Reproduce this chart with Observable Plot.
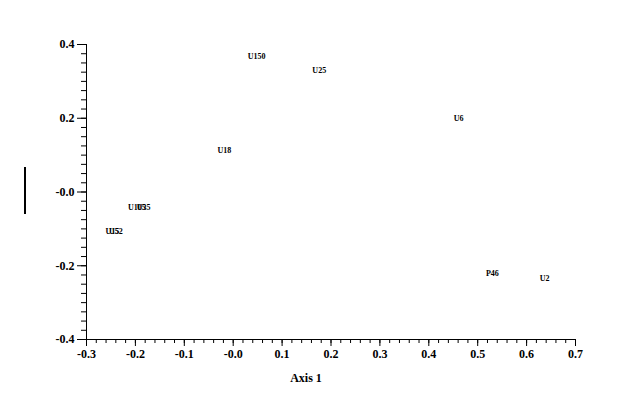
<!DOCTYPE html>
<html>
<head>
<meta charset="utf-8">
<script src="https://cdn.jsdelivr.net/npm/d3@7"></script>
<script src="https://cdn.jsdelivr.net/npm/@observablehq/plot@0.6"></script>
<style>
  html, body { margin: 0; padding: 0; background: #fff; }
  #wrap { position: relative; width: 624px; height: 413px; }
  #ybar { position: absolute; left: 24px; top: 167px; width: 2px; height: 47px; background: #000; }
</style>
</head>
<body>
<div id="wrap"><div id="ybar"></div></div>
<script>
const labels = ["U150", "U25", "U6", "U18", "U105", "U35", "U15", "U52", "P46", "U2"];
const axis1  = [0.048, 0.176, 0.461, -0.018, -0.197, -0.183, -0.247, -0.240, 0.530, 0.637];
const axis2  = [0.367, 0.329, 0.199, 0.113, -0.043, -0.043, -0.108, -0.108, -0.221, -0.235];
const xMajor = [-0.3, -0.2, -0.1, 0, 0.1, 0.2, 0.3, 0.4, 0.5, 0.6, 0.7];
const yMajor = [-0.4, -0.2, 0, 0.2, 0.4];
const xTitle = "Axis 1";

const points = labels.map((l, i) => ({label: l, x: axis1[i], y: axis2[i]}));
const xMinor = d3.range(-30, 71, 2).map(v => v / 100);
const yMinor = d3.range(-16, 17, 1).map(v => v / 40);
const fmt = d => Math.abs(d) < 1e-9 ? "-0.0" : d.toFixed(1);

const chart = Plot.plot({
  width: 624,
  height: 413,
  marginLeft: 86,
  marginRight: 49,
  marginTop: 44,
  marginBottom: 74,
  style: {fontFamily: "'Liberation Serif', 'Times New Roman', serif", background: "#fff", color: "#000"},
  x: {domain: [-0.3, 0.7]},
  y: {domain: [-0.4, 0.4]},
  marks: [
    Plot.axisX(xMinor, {tickSize: 4, text: null, label: null, stroke: "#000", strokeWidth: 1}),
    Plot.axisX(xMajor, {tickSize: 7, tickPadding: 3, tickFormat: fmt, label: null, fontSize: 12, fontWeight: "bold", stroke: "#000", strokeWidth: 1}),
    Plot.axisY(yMinor, {tickSize: 5, text: null, label: null, stroke: "#000", strokeWidth: 1}),
    Plot.axisY(yMajor, {tickSize: 9, tickPadding: 3, tickFormat: fmt, label: null, fontSize: 12, fontWeight: "bold", stroke: "#000", strokeWidth: 1}),
    Plot.ruleX([-0.3], {stroke: "#000", strokeWidth: 1}),
    Plot.ruleY([-0.4], {stroke: "#000", strokeWidth: 1}),
    Plot.text(points, {x: "x", y: "y", text: "label", fontSize: 8, fontWeight: "bold", fill: "#000"}),
    Plot.text([xTitle], {frameAnchor: "bottom", text: d => d, dx: -25, dy: 42, fontSize: 12, fontWeight: "bold", fill: "#000"})
  ]
});
document.getElementById("wrap").appendChild(chart);
</script>
</body>
</html>
